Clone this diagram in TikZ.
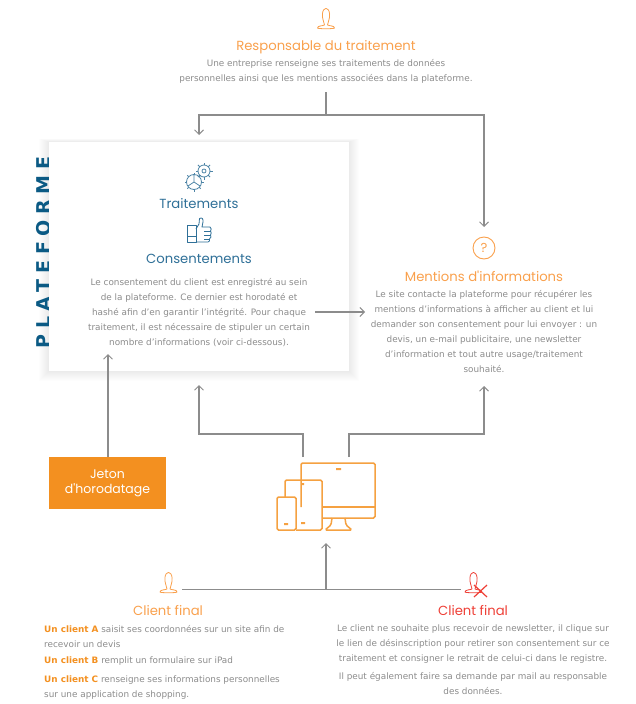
\documentclass[tikz,border=0pt]{standalone}
\usepackage{fontspec}
\setmainfont{DejaVu Sans}
\newfontfamily\titlefont{Poppins}
\newfontfamily\platefont[LetterSpace=30]{DejaVu Sans}
\usetikzlibrary{arrows.meta,calc}
\definecolor{orangeT}{HTML}{F9A04C}
\definecolor{orangeB}{HTML}{F39020}
\definecolor{blueT}{HTML}{2F7098}
\definecolor{blueP}{HTML}{0B5A84}
\definecolor{greyT}{HTML}{8C8C8C}
\definecolor{redT}{HTML}{EE3F36}
\tikzset{
  body/.style = {text=greyT,align=center,inner sep=0,font=\fontsize{8.85}{15}\selectfont},
  bodyleft/.style = {body,align=left,anchor=west},
  title/.style = {inner sep=0,font=\titlefont\fontsize{13.2}{15}\selectfont},
  link/.style = {draw=greyT,line width=1.2pt},
  arrow/.style = {link,-{Straight Barb[length=4.5pt,width=9pt,line width=1pt]}},
  icon/.style = {line width=0.8pt,line join=round},
  device/.style = {draw=orangeB!85,line width=1.5pt,rounded corners=1.5pt},
  bust/.pic = {
    \draw[icon] (-1.5,7) .. controls (-2,3) and (-4,1) .. (-3.6,-4) .. controls (-3,-11.5) and (3,-11.5) .. (3.6,-4)
      .. controls (4,1) and (2,3) .. (1.5,7) .. controls (3,8) and (8.5,7.5) .. (8.5,10)
      .. controls (8.5,11) and (-8.5,11) .. (-8.5,10) .. controls (-8.5,7.5) and (-3,8) .. (-1.5,7) -- cycle;
  },
}
\newcommand{\un}[1]{\textcolor{orangeB}{\textbf{#1}}}
\begin{document}
\begin{tikzpicture}[x=1pt,y=-1pt]
  \useasboundingbox (0,0) rectangle (636,704);

  \foreach \s in {1,2,...,10}
    \fill[black,opacity=0.008] (49-\s,142-\s/3) rectangle (349+\s,371+\s);
  \node[rotate=90,inner sep=0,text=blueP,font=\platefont\bfseries\fontsize{19}{19}\selectfont] (plateLabel) at (44,252.5) {PLATEFORME};
  \node[fill=white,inner sep=0,minimum width=300pt,minimum height=229pt] (plateforme) at (199,256.5) {};

  \pic[draw=orangeT] at (326,18) {bust};
  \node[title,text=orangeT] (responsable) at (326,47) {Responsable du traitement};
  \node[body] (responsableText) at (326,71.5) {Une entreprise renseigne ses traitements de données\\personnelles ainsi que les mentions associées dans la plateforme.};

  \node[title,text=blueT] (traitements) at (199,204) {Traitements};
  \node[title,text=blueT] (consentements) at (199,259) {Consentements};
  \node[body] (consentementsText) at (199,313) {Le consentement du client est enregistré au sein\\de la plateforme. Ce dernier est horodaté et\\hashé afin d'en garantir l'intégrité. Pour chaque\\traitement, il est nécessaire de stipuler un certain\\nombre d'informations (voir ci-dessous).};

  \begin{scope}[icon]
    \draw[draw=blueT!85] (204,171) circle[radius=6] (204,171) circle[radius=2];
    \draw[draw=blueT!85] (194,182) circle[radius=7.5] (194,182) -- (194,175) (194,182) -- (188,186) (194,182) -- (200,186);
    \foreach \a in {0,45,...,315} {
      \draw[draw=blueT!85] ($(204,171)+(\a:6)$) -- ($(204,171)+(\a:8.5)$);
      \draw[draw=blueT!85] ($(194,182)+(\a:7.5)$) -- ($(194,182)+(\a:9.5)$);
    }
    \draw[draw=blueT] (187,225) rectangle (196,242) (187,236) -- (196,236);
    \draw[draw=blueT] (196,229) -- (199,224) -- (199.5,218.5) .. controls (202,217) and (203.5,219) .. (203,222) -- (202,227) -- (210,227)
      .. controls (211.5,228) and (211.5,230) .. (210.5,231) .. controls (211.5,232) and (211.5,234) .. (210.5,235)
      .. controls (211.5,236) and (211,238) .. (209.5,239) .. controls (210,240) and (209.5,242) .. (208,242) -- (196,242);
    \draw[draw=blueT] (204,231) -- (210.5,231) (204,235) -- (210.5,235) (204,239) -- (209.5,239);
  \end{scope}

  \draw[draw=orangeT,line width=0.9pt] (484,248) circle[radius=11];
  \node[inner sep=0,text=orangeT,font=\titlefont\fontsize{13}{13}\selectfont] (question) at (484,248) {?};
  \node[title,text=orangeT] (mentions) at (484,276) {Mentions d'informations};
  \node[body] (mentionsText) at (484,331.5) {Le site contacte la plateforme pour récupérer les\\mentions d'informations à afficher au client et lui\\demander son consentement pour lui envoyer : un\\devis, un e-mail publicitaire, une newsletter\\d'information et tout autre usage/traitement\\souhaité.};

  \node[fill=orangeB,text=white,align=center,minimum width=117pt,minimum height=52pt,inner sep=0,font=\titlefont\fontsize{12.5}{15}\selectfont] (jeton) at (107.5,483) {Jeton\\d'horodatage};

  \draw[device] (301,507) -- (301,463) -- (375,463) -- (375,518) -- (322,518);
  \draw[device] (322,507) -- (375,507);
  \draw[device] (285,497) -- (285,480) -- (322,480) -- (322,530) -- (296,530);
  \draw[device] (277,497) rectangle (296,530);
  \draw[device] (332,518) -- (331,525) -- (325,530) -- (352,530) -- (346,525) -- (345,518);
  \fill[orangeB!85] (336,468) rectangle (341,470) (302,483) rectangle (304,485) (301,522) rectangle (305,524) (284,523) rectangle (288,525);

  \pic[draw=orangeT] at (168.5,582) {bust};
  \node[title,text=orangeT] (clientA) at (168,611) {Client final};
  \node[body,bodyleft] (clientAText) at (44,636.5) {\un{Un client A} saisit ses coordonnées sur un site afin de\\recevoir un devis};
  \node[body,bodyleft] (clientBText) at (44,661.5) {\un{Un client B} remplit un formulaire sur iPad};
  \node[body,bodyleft] (clientCText) at (44,687.5) {\un{Un client C} renseigne ses informations personnelles\\sur une application de shopping.};

  \pic[draw=redT] at (473.5,582) {bust};
  \draw[draw=redT,line width=1.2pt] (474,585) -- (487,597) (487,585) -- (474,597);
  \node[title,text=redT] (clientRetrait) at (473,611) {Client final};
  \node[body] (retraitText) at (473,644) {Le client ne souhaite plus recevoir de newsletter, il clique sur\\le lien de désinscription pour retirer son consentement sur ce\\traitement et consigner le retrait de celui-ci dans le registre.};
  \node[body] (mailText) at (473,683.5) {Il peut également faire sa demande par mail au responsable\\des données.};

  \coordinate (topStem) at (326,92);
  \coordinate (topLeft) at (199,115);
  \coordinate (topRight) at (484,115);
  \coordinate (topMid) at (326,115);
  \coordinate (plateTop) at (199,135);
  \coordinate (questionTop) at (484,227);
  \coordinate (plateOut) at (315,312);
  \coordinate (mentionsIn) at (365,312);
  \coordinate (plateBottom) at (108,354);
  \coordinate (plateUnder) at (199,385);
  \coordinate (mentionsUnder) at (484,386);
  \coordinate (deviceLeft) at (303,457);
  \coordinate (deviceRight) at (349,457);
  \coordinate (deviceUnder) at (326,543);
  \coordinate (clientLeft) at (182,589.5);
  \coordinate (clientMid) at (326,589.5);
  \coordinate (clientRight) at (461,589.5);

  \draw[link] (topStem) -- (topMid);
  \draw[arrow] (topMid) -- (topLeft) -- (plateTop);
  \draw[arrow] (topMid) -- (topRight) -- (questionTop);
  \draw[arrow] (plateOut) -- (mentionsIn);
  \draw[arrow] (jeton.north -| plateBottom) -- (plateBottom);
  \draw[arrow] (deviceLeft) |- (plateUnder |- 0,434) -- (plateUnder);
  \draw[arrow] (deviceRight) |- (mentionsUnder |- 0,434) -- (mentionsUnder);
  \draw[link] (clientLeft) -- (clientRight);
  \draw[arrow] (clientMid) -- (deviceUnder);
\end{tikzpicture}
\end{document}
